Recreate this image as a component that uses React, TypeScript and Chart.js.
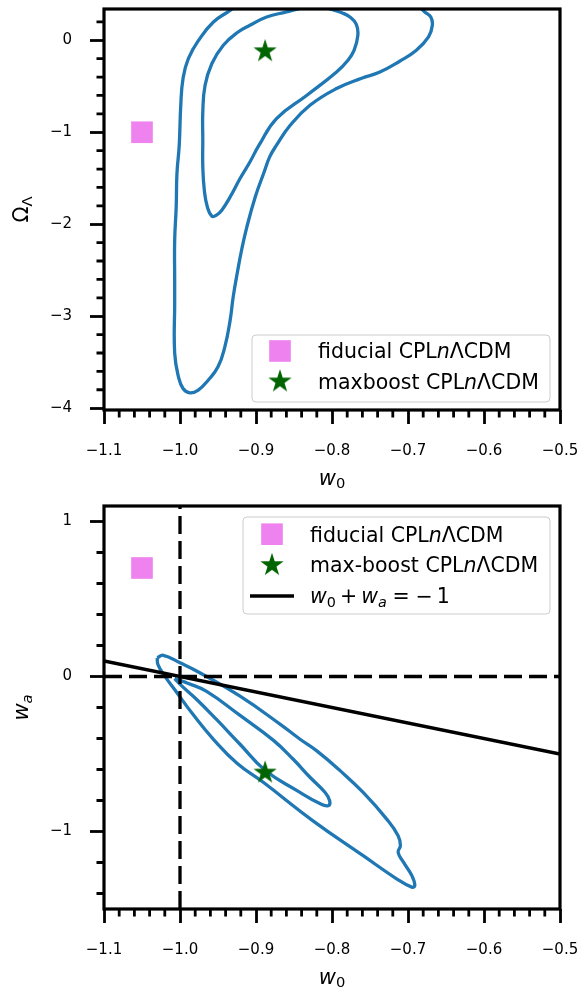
import React, { useEffect, useRef } from 'react';
import { Chart, registerables } from 'chart.js';

Chart.register(...registerables);

// ---------------- data ----------------
const xMin = -1.1;
const xMax = -0.5;
const topYMin = -4.02;
const topYMax = 0.34;
const bottomYMin = -1.5;
const bottomYMax = 1.1;

const xMajorTicks = [-1.1, -1.0, -0.9, -0.8, -0.7, -0.6, -0.5];
const xMinorTicks = [
  -1.08, -1.06, -1.04, -1.02, -0.98, -0.96, -0.94, -0.92, -0.88, -0.86, -0.84, -0.82,
  -0.78, -0.76, -0.74, -0.72, -0.68, -0.66, -0.64, -0.62, -0.58, -0.56, -0.54, -0.52,
];
const topYMajorTicks = [-4, -3, -2, -1, 0];
const topYMinorTicks = [
  -3.8, -3.6, -3.4, -3.2, -2.8, -2.6, -2.4, -2.2, -1.8, -1.6, -1.4, -1.2, -0.8, -0.6, -0.4, -0.2, 0.2,
];
const bottomYMajorTicks = [-1, 0, 1];
const bottomYMinorTicks = [-1.4, -1.2, -0.8, -0.6, -0.4, -0.2, 0.2, 0.4, 0.6, 0.8];

const fiducialW0 = -1.05;
const fiducialOmegaL = -1.0;
const fiducialWa = 0.7;
const maxboostW0 = -0.888;
const maxboostOmegaL = -0.12;
const maxboostWa = -0.62;

const constraintLineW0 = [-1.1, -0.5];
const constraintLineWa = [0.1, -0.5];
const referenceW0 = -1.0;
const referenceWa = 0.0;

type Pt = [number, number];

// top panel (w0, Omega_Lambda)
const topOuterContour: Pt[] = [
  [-0.921, 0.402], [-0.936, 0.315], [-0.956, 0.199], [-0.974, 0.018], [-0.989, -0.199],
  [-0.996, -0.416], [-0.999, -0.707], [-1.001, -1.141], [-1.004, -1.446], [-1.005, -1.812],
  [-1.007, -2.174], [-1.007, -2.609], [-1.007, -2.859], [-1.007, -3.402], [-1.002, -3.66],
  [-0.996, -3.786], [-0.987, -3.834], [-0.976, -3.804], [-0.963, -3.696], [-0.95, -3.551],
  [-0.941, -3.334], [-0.934, -3.043], [-0.93, -2.79], [-0.924, -2.5], [-0.919, -2.283],
  [-0.912, -2.029], [-0.901, -1.703], [-0.89, -1.449], [-0.882, -1.268], [-0.873, -1.141],
  [-0.855, -0.924], [-0.829, -0.707], [-0.794, -0.525], [-0.761, -0.413], [-0.737, -0.345],
  [-0.711, -0.228], [-0.689, -0.109], [-0.673, 0.036], [-0.668, 0.163], [-0.67, 0.253],
  [-0.678, 0.308], [-0.687, 0.38],
];
const topInnerContour: Pt[] = [
  [-0.816, 0.38], [-0.842, 0.348], [-0.86, 0.308], [-0.886, 0.253], [-0.908, 0.163],
  [-0.924, 0.087], [-0.943, -0.054], [-0.958, -0.253], [-0.967, -0.489], [-0.97, -0.779],
  [-0.97, -1.087], [-0.97, -1.377], [-0.968, -1.63], [-0.964, -1.812], [-0.958, -1.913],
  [-0.952, -1.902], [-0.945, -1.848], [-0.934, -1.703], [-0.921, -1.503], [-0.908, -1.323],
  [-0.896, -1.141], [-0.873, -0.851], [-0.833, -0.598], [-0.794, -0.345], [-0.779, -0.217],
  [-0.771, -0.109], [-0.766, 0.054], [-0.768, 0.174], [-0.776, 0.25], [-0.787, 0.299],
  [-0.797, 0.326], [-0.816, 0.38],
];

// bottom panel (w0, wa)
const bottomOuterContour: Pt[] = [
  [-1.03, 0.12], [-1.022, 0.137], [-1.0, 0.088], [-0.974, 0.024], [-0.921, -0.127],
  [-0.868, -0.309], [-0.842, -0.405], [-0.82, -0.48], [-0.789, -0.609], [-0.759, -0.748],
  [-0.728, -0.92], [-0.713, -1.027], [-0.71, -1.091], [-0.713, -1.134], [-0.706, -1.198],
  [-0.695, -1.284], [-0.691, -1.349], [-0.695, -1.359], [-0.715, -1.305], [-0.759, -1.156],
  [-0.825, -0.931], [-0.89, -0.684], [-0.925, -0.559], [-0.956, -0.405], [-0.983, -0.244],
  [-1.004, -0.105], [-1.02, 0.002], [-1.029, 0.077], [-1.03, 0.12],
];
const bottomInnerContour: Pt[] = [
  [-1.007, -0.013], [-0.989, -0.045], [-0.965, -0.096], [-0.921, -0.251], [-0.877, -0.412],
  [-0.851, -0.534], [-0.829, -0.65], [-0.809, -0.748], [-0.803, -0.802], [-0.805, -0.834],
  [-0.816, -0.82], [-0.846, -0.736], [-0.888, -0.605], [-0.921, -0.437], [-0.952, -0.277],
  [-0.978, -0.148], [-0.997, -0.064], [-1.007, -0.013],
];

// ---------------- style ----------------
const FONT = '"DejaVu Sans", "Liberation Sans", sans-serif';
const BLUE = '#1f77b4';
const VIOLET = '#ee82ee';
const GREEN = '#006400';
const TICK_SIZE = 15;
const LEGEND_SIZE = 20.5;
const LABEL_SIZE = 21;

type Seg = { t: string; i?: boolean; sub?: boolean; gap?: number };

const minus = (s: string) => s.replace('-', '\u2212');
const toXY = (arr: Pt[]) => arr.map(([x, y]) => ({ x, y }));

function segFont(s: Seg, size: number) {
  const sz = s.sub ? size * 0.7 : size;
  return `${s.i ? 'italic ' : ''}${sz}px ${FONT}`;
}
function measureRich(ctx: CanvasRenderingContext2D, segs: Seg[], size: number) {
  let w = 0;
  segs.forEach((s, k) => {
    ctx.font = segFont(s, size);
    w += ctx.measureText(s.t).width + (k < segs.length - 1 ? s.gap || 0 : 0);
  });
  return w;
}
function drawRich(ctx: CanvasRenderingContext2D, segs: Seg[], x: number, y: number, size: number) {
  let cx = x;
  segs.forEach((s) => {
    ctx.font = segFont(s, size);
    ctx.fillText(s.t, cx, s.sub ? y + size * 0.18 : y);
    cx += ctx.measureText(s.t).width + (s.gap || 0);
  });
}

function makeStar(R: number, color: string) {
  const size = 26;
  const c = document.createElement('canvas');
  c.width = size;
  c.height = size;
  const g = c.getContext('2d')!;
  g.translate(size / 2, size / 2);
  g.beginPath();
  for (let k = 0; k < 10; k++) {
    const r = k % 2 === 0 ? R : R * 0.381966;
    const a = -Math.PI / 2 + (k * Math.PI) / 5;
    if (k === 0) g.moveTo(r * Math.cos(a), r * Math.sin(a));
    else g.lineTo(r * Math.cos(a), r * Math.sin(a));
  }
  g.closePath();
  g.fillStyle = color;
  g.fill();
  g.lineWidth = 1.2;
  g.strokeStyle = color;
  g.stroke();
  return c;
}

const frameTicksPlugin = {
  id: 'frameTicks',
  afterDraw(chart: any, _a: any, opts: any) {
    const { ctx, chartArea: ca } = chart;
    const xs = chart.scales.x;
    const ys = chart.scales.y;
    ctx.save();
    ctx.strokeStyle = '#000';
    ctx.lineWidth = 2.8;
    ctx.beginPath();
    for (const v of opts.xMinor) {
      const px = xs.getPixelForValue(v);
      ctx.moveTo(px, ca.bottom);
      ctx.lineTo(px, ca.bottom + 7.5);
    }
    for (const v of opts.yMinor) {
      const py = ys.getPixelForValue(v);
      ctx.moveTo(ca.left, py);
      ctx.lineTo(ca.left - 7.5, py);
    }
    ctx.stroke();
    ctx.lineWidth = 3.2;
    ctx.strokeRect(ca.left, ca.top, ca.right - ca.left, ca.bottom - ca.top);
    ctx.restore();
  },
};

const axisTitlesPlugin = {
  id: 'axisTitles',
  afterDraw(chart: any, _a: any, opts: any) {
    const { ctx, chartArea: ca } = chart;
    ctx.save();
    ctx.fillStyle = '#000';
    ctx.textBaseline = 'alphabetic';
    ctx.textAlign = 'left';
    const wx = measureRich(ctx, opts.x, LABEL_SIZE);
    drawRich(ctx, opts.x, (ca.left + ca.right) / 2 - wx / 2, ca.bottom + 74.5, LABEL_SIZE);
    ctx.translate(28, (ca.top + ca.bottom) / 2);
    ctx.rotate(-Math.PI / 2);
    const wy = measureRich(ctx, opts.y, LABEL_SIZE);
    drawRich(ctx, opts.y, -wy / 2, 0, LABEL_SIZE);
    ctx.restore();
  },
};

const legendBoxPlugin = {
  id: 'legendBox',
  afterDraw(chart: any, _a: any, opts: any) {
    const { ctx, chartArea: ca } = chart;
    const left = ca.right - opts.width - 10;
    const right = ca.right - 10;
    const top = opts.anchor === 'top' ? ca.top + 11 : ca.bottom - 8 - opts.height;
    ctx.save();
    ctx.beginPath();
    (ctx as any).roundRect(left, top, right - left, opts.height, 4);
    ctx.fillStyle = 'rgba(255,255,255,0.8)';
    ctx.fill();
    ctx.lineWidth = 1;
    ctx.strokeStyle = '#cccccc';
    ctx.stroke();
    opts.rows.forEach((row: any, k: number) => {
      const y = top + opts.firstRow + k * opts.rowGap;
      const mx = left + opts.markerX;
      if (row.kind === 'square') {
        ctx.fillStyle = VIOLET;
        ctx.fillRect(mx - 10.8, y - 10.8, 21.6, 21.6);
      } else if (row.kind === 'star') {
        const img = opts.star;
        ctx.drawImage(img, mx - img.width / 2, y - img.height / 2);
      } else if (row.kind === 'line') {
        ctx.strokeStyle = '#000';
        ctx.lineWidth = 3.5;
        ctx.beginPath();
        ctx.moveTo(mx - 22, y);
        ctx.lineTo(mx + 22, y);
        ctx.stroke();
      }
      ctx.fillStyle = '#000';
      ctx.textBaseline = 'alphabetic';
      ctx.textAlign = 'left';
      drawRich(ctx, row.segs, left + opts.textX, y + 7.3, LEGEND_SIZE);
    });
    ctx.restore();
  },
};

function contourDataset(points: Pt[]) {
  return {
    data: toXY(points),
    showLine: true,
    borderColor: BLUE,
    borderWidth: 3.3,
    pointRadius: 0,
    pointHoverRadius: 0,
    tension: 0.45,
    fill: false,
    clip: 0,
    order: 3,
  };
}

function straightDataset(xs: number[], ys: number[], dashed: boolean) {
  return {
    data: xs.map((x, k) => ({ x, y: ys[k] })),
    showLine: true,
    borderColor: '#000',
    borderWidth: dashed ? 3.3 : 3.5,
    borderDash: dashed ? [18, 7] : [],
    pointRadius: 0,
    pointHoverRadius: 0,
    tension: 0,
    fill: false,
    clip: 0,
    order: 2,
  };
}

function markerDataset(x: number, y: number, style: any, radius: number, color: string) {
  return {
    data: [{ x, y }],
    showLine: false,
    pointStyle: style,
    pointRadius: radius,
    pointHoverRadius: radius,
    pointBackgroundColor: color,
    pointBorderColor: color,
    pointBorderWidth: 0,
    clip: false,
    order: 1,
  };
}

function makeChart(canvas: HTMLCanvasElement, p: any) {
  const tickFont = { family: FONT, size: TICK_SIZE };
  return new Chart(canvas, {
    type: 'scatter',
    data: { datasets: p.datasets },
    plugins: [frameTicksPlugin, axisTitlesPlugin, legendBoxPlugin],
    options: {
      responsive: false,
      animation: false,
      devicePixelRatio: 1,
      events: [],
      layout: { autoPadding: false, padding: { top: p.padTop, right: 19, left: 0, bottom: 0 } },
      elements: { line: { capBezierPoints: false } },
      plugins: {
        legend: { display: false },
        tooltip: { enabled: false },
        frameTicks: { xMinor: xMinorTicks, yMinor: p.yMinor },
        axisTitles: { x: p.xTitle, y: p.yTitle },
        legendBox: p.legend,
      } as any,
      scales: {
        x: {
          type: 'linear',
          min: xMin,
          max: xMax,
          afterBuildTicks: (s: any) => {
            s.ticks = xMajorTicks.map((v) => ({ value: v }));
          },
          afterFit: (s: any) => {
            s.height = p.xAxisHeight;
            s.paddingLeft = 0;
            s.paddingRight = 0;
          },
          ticks: {
            callback: (v: any) => minus(Number(v).toFixed(1)),
            font: tickFont,
            color: '#000',
            padding: 18,
            maxRotation: 0,
            autoSkip: false,
          },
          grid: { drawOnChartArea: false, drawTicks: true, tickLength: 14, tickWidth: 2.8, tickColor: '#000' },
          border: { display: false },
        },
        y: {
          type: 'linear',
          min: p.yMin,
          max: p.yMax,
          afterBuildTicks: (s: any) => {
            s.ticks = p.yMajor.map((v: number) => ({ value: v }));
          },
          afterFit: (s: any) => {
            s.width = 104;
            s.paddingTop = 0;
            s.paddingBottom = 0;
          },
          ticks: {
            callback: (v: any) => minus(String(Math.round(Number(v)))),
            font: tickFont,
            color: '#000',
            padding: 18,
            autoSkip: false,
          },
          grid: { drawOnChartArea: false, drawTicks: true, tickLength: 14, tickWidth: 2.8, tickColor: '#000' },
          border: { display: false },
        },
      },
    } as any,
  });
}

export default function App() {
  const topRef = useRef<HTMLCanvasElement>(null);
  const bottomRef = useRef<HTMLCanvasElement>(null);

  useEffect(() => {
    const star = makeStar(10.3, GREEN);
    const nLabel = (prefix: string): Seg[] => [{ t: prefix + 'CPL' }, { t: 'n', i: true }, { t: '\u039bCDM' }];

    const top = makeChart(topRef.current!, {
      padTop: 9,
      xAxisHeight: 85,
      yMin: topYMin,
      yMax: topYMax,
      yMajor: topYMajorTicks,
      yMinor: topYMinorTicks,
      xTitle: [{ t: 'w', i: true }, { t: '0', sub: true }],
      yTitle: [{ t: '\u03a9' }, { t: '\u039b', sub: true }],
      datasets: [
        markerDataset(maxboostW0, maxboostOmegaL, star, 11, GREEN),
        markerDataset(fiducialW0, fiducialOmegaL, 'rect', 15.3, VIOLET),
        contourDataset(topInnerContour),
        contourDataset(topOuterContour),
      ],
      legend: {
        anchor: 'bottom',
        width: 298,
        height: 67,
        firstRow: 16,
        rowGap: 30.5,
        markerX: 28,
        textX: 66,
        star,
        rows: [
          { kind: 'square', segs: nLabel('fiducial ') },
          { kind: 'star', segs: nLabel('maxboost ') },
        ],
      },
    });

    const bottom = makeChart(bottomRef.current!, {
      padTop: 11,
      xAxisHeight: 81,
      yMin: bottomYMin,
      yMax: bottomYMax,
      yMajor: bottomYMajorTicks,
      yMinor: bottomYMinorTicks,
      xTitle: [{ t: 'w', i: true }, { t: '0', sub: true }],
      yTitle: [{ t: 'w', i: true }, { t: 'a', i: true, sub: true }],
      datasets: [
        markerDataset(maxboostW0, maxboostWa, star, 11, GREEN),
        markerDataset(fiducialW0, fiducialWa, 'rect', 15.3, VIOLET),
        straightDataset(constraintLineW0, constraintLineWa, false),
        straightDataset([referenceW0, referenceW0], [bottomYMin, bottomYMax], true),
        straightDataset([xMin, xMax], [referenceWa, referenceWa], true),
        contourDataset(bottomInnerContour),
        contourDataset(bottomOuterContour),
      ],
      legend: {
        anchor: 'top',
        width: 307,
        height: 97,
        firstRow: 17.2,
        rowGap: 30.9,
        markerX: 29,
        textX: 67,
        star,
        rows: [
          { kind: 'square', segs: nLabel('fiducial ') },
          { kind: 'star', segs: nLabel('max-boost ') },
          {
            kind: 'line',
            segs: [
              { t: 'w', i: true },
              { t: '0', sub: true, gap: 4.1 },
              { t: '+', gap: 4.1 },
              { t: 'w', i: true },
              { t: 'a', i: true, sub: true, gap: 5.7 },
              { t: '=', gap: 5.7 },
              { t: '\u2212', gap: 4.1 },
              { t: '1' },
            ],
          },
        ],
      },
    });

    return () => {
      top.destroy();
      bottom.destroy();
    };
  }, []);

  return (
    <div style={{ position: 'absolute', left: 0, top: 0, width: 579, height: 990, background: '#fff' }}>
      <canvas ref={topRef} width={579} height={495} style={{ display: 'block', width: 579, height: 495 }} />
      <canvas ref={bottomRef} width={579} height={495} style={{ display: 'block', width: 579, height: 495 }} />
    </div>
  );
}
